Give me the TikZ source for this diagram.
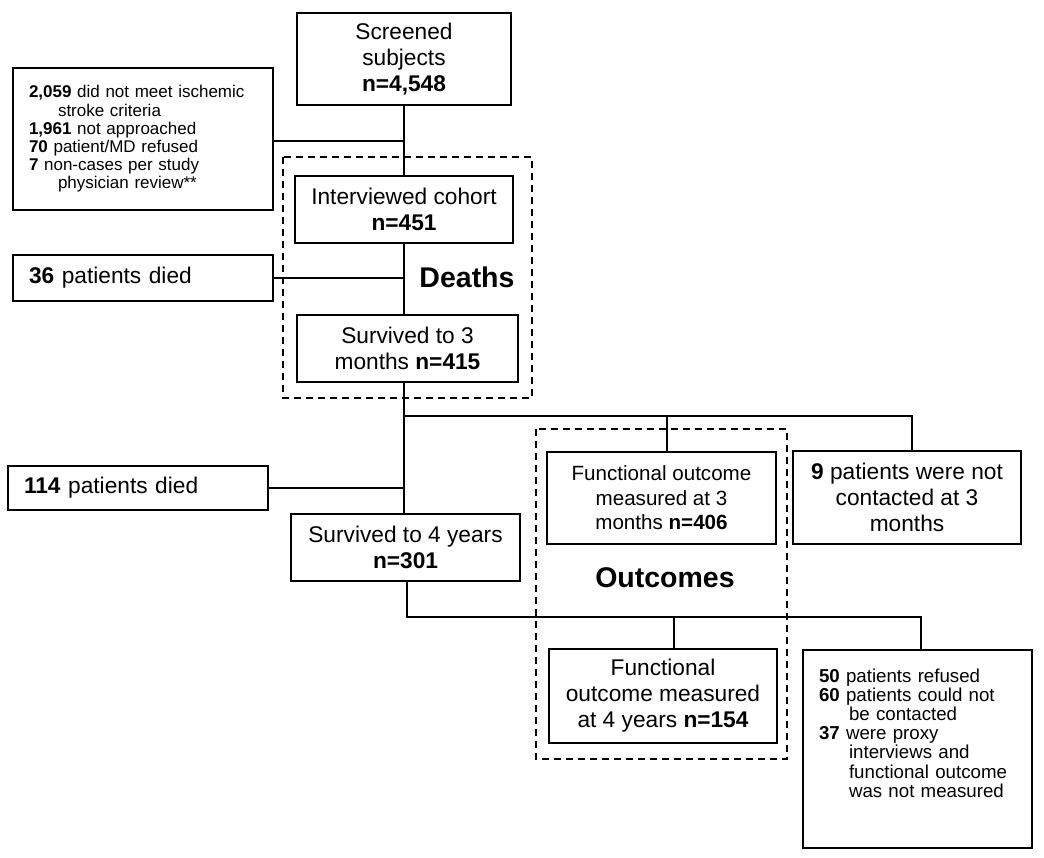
\documentclass[tikz,border=0pt]{standalone}
\usepackage{fontspec}
\setmainfont{Liberation Sans}
\tikzset{
  box/.style={draw, line width=1.4pt, align=center, inner sep=2pt,
    font=\fontsize{22.7pt}{26pt}\selectfont},
  note/.style={draw, line width=1.4pt, align=left, inner xsep=16pt, inner ysep=2pt,
    text width=228pt, font=\fontsize{17pt}{18.2pt}\selectfont},
  group/.style={draw, line width=1.2pt, dash pattern=on 7pt off 5pt},
  heading/.style={font=\fontsize{28.5pt}{32pt}\selectfont\bfseries},
  link/.style={draw, line width=1.4pt},
}

\begin{document}
\begin{tikzpicture}[x=1pt, y=-1pt]
    \useasboundingbox (0,0) rectangle (1044,857);

    \path (404,   59)   node [box, minimum width=214pt, minimum height=92pt] (screened) {Screened\\subjects\\\textbf{n=4,548}};
    \path (143,  139)   node [note, minimum height=142pt] (excluded) {\textbf{2,059} did not meet ischemic\\\hspace*{29pt}stroke criteria\\\textbf{1,961} not approached\\\textbf{70} patient/MD refused\\\textbf{7} non-cases per study\\\hspace*{29pt}physician review**};
    \path (404,  209.5) node [box, minimum width=218pt, minimum height=67pt] (cohort) {Interviewed cohort\\\textbf{n=451}};
    \path (143,  278)   node [note, minimum height=46pt, font=\fontsize{22.7pt}{26pt}\selectfont] (died) {\textbf{36} patients died};
    \path (407.5,348.5) node [box, minimum width=221pt, minimum height=67pt] (threemonths) {Survived to 3\\months \textbf{n=415}};
    \path (467,  277)   node [heading] (deaths) {Deaths};

    \path (138,  488)   node [note, minimum height=44pt, font=\fontsize{22.7pt}{26pt}\selectfont] (laterdied) {\textbf{114} patients died};
    \path (405.5,547.5) node [box, minimum width=229pt, minimum height=67pt] (fouryears) {Survived to 4 years\\\textbf{n=301}};
    \path (661.5,498)   node [box, minimum width=229pt, minimum height=92pt, font=\fontsize{20.6pt}{24.5pt}\selectfont] (outcome3) {Functional outcome\\measured at 3\\months \textbf{n=406}};
    \path (907,  497.5) node [box, minimum width=228pt, minimum height=93pt] (nocontact) {\textbf{9} patients were not\\contacted at 3\\months};
    \path (665,  578)   node [heading] (outcomes) {Outcomes};
    \path (663,  696)   node [box, minimum width=228pt, minimum height=94pt] (outcome4) {Functional\\outcome measured\\at 4 years \textbf{n=154}};
    \path (917.5,749)   node [note, text width=197pt, minimum height=198pt, font=\fontsize{18.7pt}{19.2pt}\selectfont] (lost) {\textbf{50} patients refused\\\textbf{60} patients could not\\\hspace*{30pt}be contacted\\\textbf{37} were proxy\\\hspace*{30pt}interviews and\\\hspace*{30pt}functional outcome\\\hspace*{30pt}was not measured\\[13pt]\mbox{}};

    % dashed groups
    \draw [group] (283,157) rectangle (532,398);
    \draw [group] (536,429) rectangle (787,759);

    % junctions
    \coordinate (fork)   at (404,416);
    \coordinate (tap)    at (667,416);
    \coordinate (bend)   at (912,416);
    \coordinate (drop)   at (407,617);
    \coordinate (tap2)   at (674,617);
    \coordinate (bend2)  at (921,617);

    \draw [link] (screened) -- (cohort);
    \draw [link] ([yshift=-2pt]excluded.east) -- ([yshift=-2pt]excluded.east -| screened.south);
    \draw [link] (cohort.south) -- (cohort.south |- threemonths.north);
    \draw [link] (died) -- (died -| cohort.south);
    \draw [link] (threemonths.south -| cohort.south) -- (fouryears.north -| cohort.south);
    \draw [link] (fork) -- (bend) -- (bend |- nocontact.north);
    \draw [link] (tap) -- (tap |- outcome3.north);
    \draw [link] (laterdied) -- (laterdied -| cohort.south);
    \draw [link] (drop |- fouryears.south) -- (drop) -- (bend2) -- (bend2 |- lost.north);
    \draw [link] (tap2) -- (tap2 |- outcome4.north);
\end{tikzpicture}
\end{document}
